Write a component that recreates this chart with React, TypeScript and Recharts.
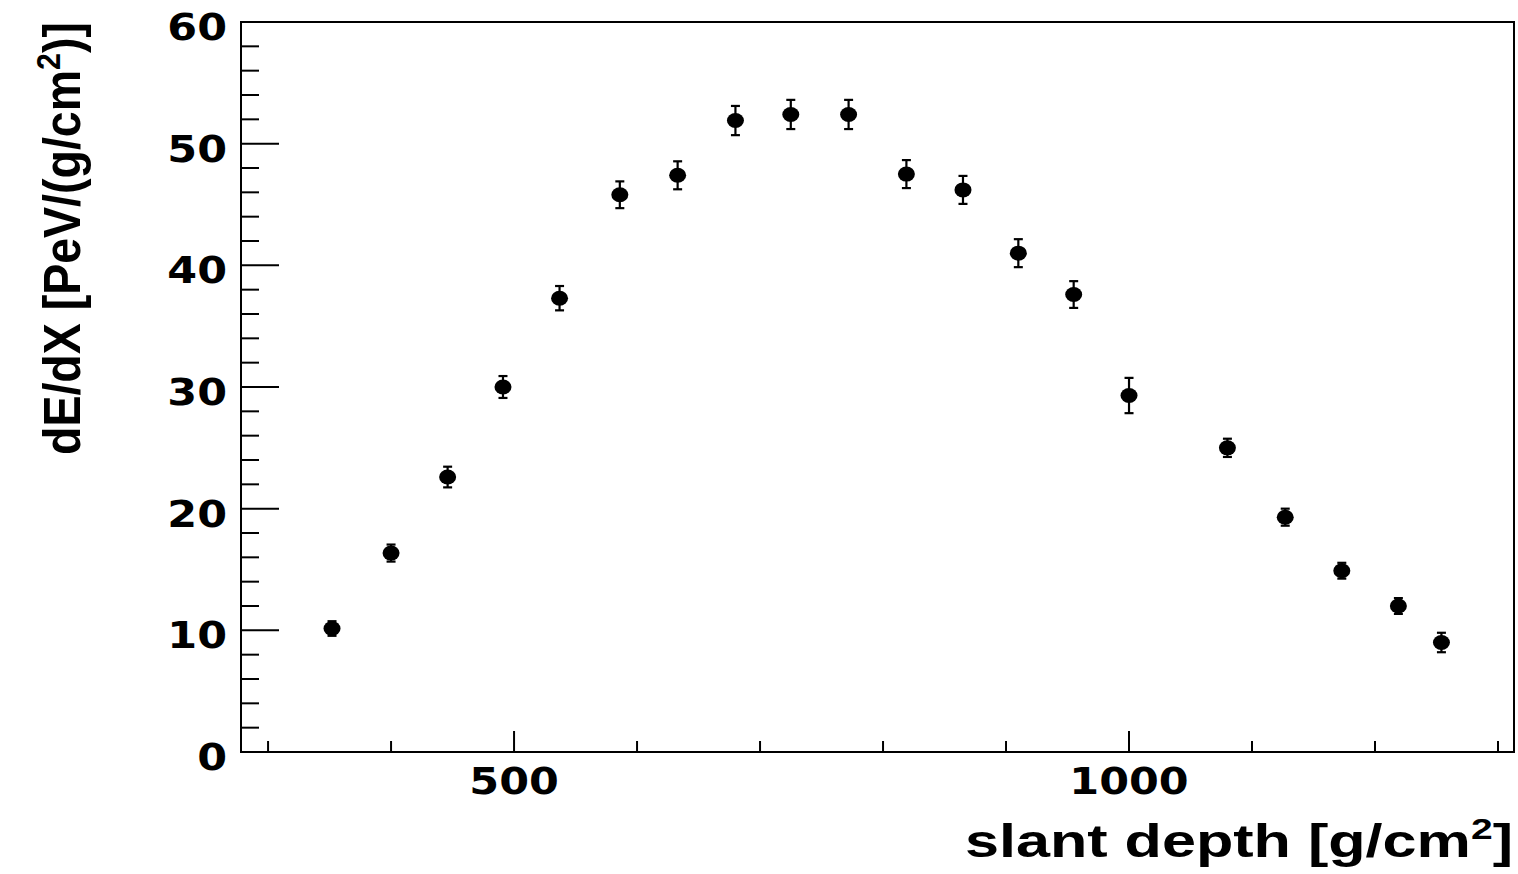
import React from 'react';
import { ScatterChart, Scatter, XAxis, YAxis, ErrorBar, ReferenceArea } from 'recharts';

const depths = [352, 400, 446, 491, 537, 586, 633, 680, 725, 772, 819, 865, 910, 955, 1000, 1080, 1127, 1173, 1219, 1254];
const dEdX = [10.15, 16.35, 22.6, 30.0, 37.3, 45.8, 47.4, 51.9, 52.4, 52.4, 47.5, 46.2, 41.0, 37.6, 29.3, 25.0, 19.3, 14.9, 12.0, 9.0];
const errors = [0.6, 0.7, 0.85, 0.9, 1.0, 1.1, 1.15, 1.2, 1.2, 1.2, 1.15, 1.15, 1.15, 1.1, 1.45, 0.75, 0.7, 0.65, 0.65, 0.8];

const xTicks = [300, 400, 500, 600, 700, 800, 900, 1000, 1100, 1200, 1300];
const xMajor = [500, 1000];
const yTicks = [0, 2, 4, 6, 8, 10, 12, 14, 16, 18, 20, 22, 24, 26, 28, 30, 32, 34, 36, 38, 40, 42, 44, 46, 48, 50, 52, 54, 56, 58, 60];
const yMajor = [0, 10, 20, 30, 40, 50, 60];

const xDomain = [278, 1313];
const yDomain = [0, 60];

const data = depths.map((d, i) => ({ x: d, y: dEdX[i], err: errors[i] }));

const FONT = '"Liberation Sans", Arial, Helvetica, sans-serif';
const TICK_FONT = '"DejaVu Sans", "Liberation Sans", Arial, sans-serif';

const renderYTick = (props: any) => {
  const { x, y, payload } = props;
  const v = payload.value;
  const major = yMajor.includes(v);
  return (
    <g key={`yt-${v}`}>
      <line x1={x} y1={y} x2={x + (major ? 38 : 18)} y2={y} stroke="#000" strokeWidth={2} />
      {major && (
        <text
          transform={`translate(${x - 14} ${y + 18}) scale(1.16 1)`}
          textAnchor="end"
          fontFamily={TICK_FONT}
          fontWeight="bold"
          fontSize={37}
          fill="#000"
        >
          {v}
        </text>
      )}
    </g>
  );
};

const renderXTick = (props: any) => {
  const { x, y, payload } = props;
  const v = payload.value;
  const major = xMajor.includes(v);
  return (
    <g key={`xt-${v}`}>
      <line x1={x} y1={y} x2={x} y2={y - (major ? 21 : 11)} stroke="#000" strokeWidth={2} />
      {major && (
        <text
          transform={`translate(${x} ${y + 42}) scale(1.16 1)`}
          textAnchor="middle"
          fontFamily={TICK_FONT}
          fontWeight="bold"
          fontSize={37}
          fill="#000"
        >
          {v}
        </text>
      )}
    </g>
  );
};

const Dot = (props: any) => {
  const { cx, cy } = props;
  return <ellipse cx={cx} cy={cy} rx={8.5} ry={7.5} fill="#000" />;
};

export default function App() {
  return (
    <div style={{ position: 'absolute', left: 0, top: 0, width: 1518, height: 874, background: '#fff' }}>
      <ScatterChart width={1518} height={874} margin={{ top: 22, right: 4, bottom: 72, left: 181 }}>
        <XAxis
          type="number"
          dataKey="x"
          domain={xDomain}
          allowDataOverflow
          ticks={xTicks}
          interval={0}
          height={50}
          tickSize={0}
          tickMargin={0}
          tickLine={false}
          axisLine={false}
          tick={renderXTick}
        />
        <YAxis
          type="number"
          dataKey="y"
          domain={yDomain}
          allowDataOverflow
          ticks={yTicks}
          interval={0}
          width={60}
          tickSize={0}
          tickMargin={0}
          tickLine={false}
          axisLine={false}
          tick={renderYTick}
        />
        <ReferenceArea x1={xDomain[0]} x2={xDomain[1]} y1={yDomain[0]} y2={yDomain[1]} fill="none" stroke="#000" strokeWidth={2} />
        <Scatter data={data} shape={<Dot />} isAnimationActive={false}>
          <ErrorBar dataKey="err" direction="y" width={4.5} stroke="#000" strokeWidth={2.2} />
        </Scatter>
      </ScatterChart>
      <svg width={1518} height={874} style={{ position: 'absolute', left: 0, top: 0, pointerEvents: 'none' }}>
        <text
          transform="translate(80 238.5) rotate(-90)"
          textAnchor="middle"
          fontFamily={FONT}
          fontWeight="bold"
          fontSize={52}
          fill="#000"
          textLength={433}
          lengthAdjust="spacingAndGlyphs"
        >
          dE/dX [PeV/(g/cm<tspan dy={-20} fontSize={34}>2</tspan><tspan dy={20}>)]</tspan>
        </text>
        <text
          x={1513}
          y={857}
          textAnchor="end"
          fontFamily={FONT}
          fontWeight="bold"
          fontSize={47}
          fill="#000"
          textLength={548}
          lengthAdjust="spacingAndGlyphs"
        >
          slant depth [g/cm<tspan dy={-18} fontSize={30}>2</tspan><tspan dy={18}>]</tspan>
        </text>
      </svg>
    </div>
  );
}
